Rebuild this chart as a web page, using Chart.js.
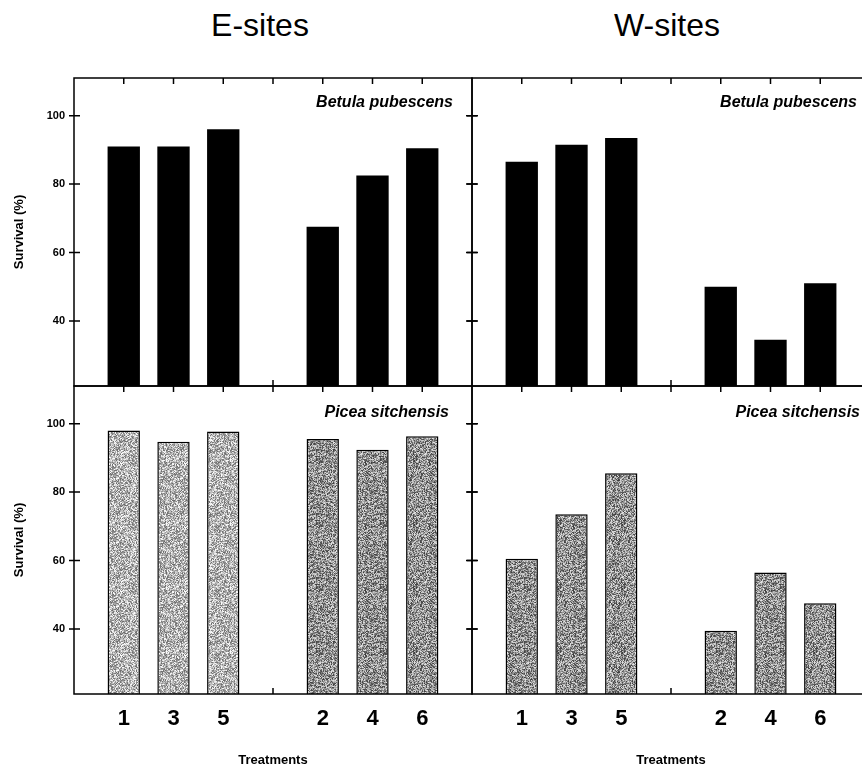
<!DOCTYPE html>
<html>
<head>
<meta charset="utf-8">
<script src="https://cdn.jsdelivr.net/npm/chart.js@4"></script>
<style>
  body { margin: 0; background: #fff; }
  #wrap { position: relative; width: 862px; height: 768px; overflow: hidden; background: #fff; }
  #wrap canvas { position: absolute; }
  .site { position: absolute; top: 9px; width: 200px; margin-left: -100px; text-align: center;
          font: 32px/32px "Liberation Sans", Arial, sans-serif; color: #000; }
</style>
</head>
<body>
<div id="wrap">
  <div class="site" style="left:260px">E-sites</div>
  <div class="site" style="left:667px">W-sites</div>
  <canvas id="js--betulaE" width="480" height="340" style="left:0;top:60px"></canvas>
  <canvas id="js--betulaW" width="416" height="340" style="left:464px;top:60px"></canvas>
  <canvas id="js--piceaE" width="480" height="398" style="left:0;top:370px"></canvas>
  <canvas id="js--piceaW" width="416" height="398" style="left:464px;top:370px"></canvas>
</div>
<script>
// treatments, with empty slots at the ends and between the two groups
const treatments = ['', '1', '3', '5', '', '2', '4', '6', ''];

// survival (%)
const betulaE = [null, 91, 91, 96, null, 67.5, 82.5, 90.5, null];
const betulaW = [null, 86.5, 91.5, 93.5, null, 50, 34.5, 51, null];
const piceaE = [null, 98, 94.7, 97.7, null, 95.5, 92.4, 96.3, null];
const piceaW = [null, 60.5, 73.5, 85.5, null, 39.5, 56.5, 47.5, null];

const yTicks = [40, 60, 80, 100];
const yMin = 21;
const yMax = 111;

const font = '"Liberation Sans", Arial, sans-serif';

// grainy grey fill like the scanned bars (fixed seed, not data)
function grain(base, spread, seed) {
    const c = document.createElement('canvas');
    c.width = 64;
    c.height = 64;
    const g = c.getContext('2d');
    const img = g.createImageData(64, 64);
    let s = seed;
    for (let i = 0; i < 64 * 64; i++) {
        s = (Math.imul(s, 1103515245) + 12345) & 0x7fffffff;
        const v = Math.max(0, Math.min(255, base + ((s >> 8) % (2 * spread)) - spread));
        img.data[i * 4] = v;
        img.data[i * 4 + 1] = v;
        img.data[i * 4 + 2] = v;
        img.data[i * 4 + 3] = 255;
    }
    g.putImageData(img, 0, 0);
    return g.createPattern(c, 'repeat');
}

const light = grain(180, 75, 7);
const medium = grain(145, 85, 13);

// box round the plot with inward ticks, and the species name
const frame = {
    id: 'frame',
    beforeDatasetsDraw(chart) {
        const { ctx, chartArea: a, scales: { x, y } } = chart;
        ctx.save();
        ctx.strokeStyle = '#000';
        ctx.lineWidth = 1.5;
        ctx.beginPath();
        for (let i = 1; i < treatments.length - 1; i++) {
            const px = x.getPixelForValue(i);
            ctx.moveTo(px, a.top);
            ctx.lineTo(px, a.top + 6);
            ctx.moveTo(px, a.bottom);
            ctx.lineTo(px, a.bottom - 6);
        }
        yTicks.forEach(v => {
            const py = y.getPixelForValue(v);
            ctx.moveTo(a.left - 5, py);
            ctx.lineTo(a.left + 6, py);
            ctx.moveTo(a.right - 6, py);
            ctx.lineTo(a.right + 5, py);
        });
        ctx.stroke();
        ctx.restore();
    },
    afterDatasetsDraw(chart, args, opts) {
        const { ctx, chartArea: a } = chart;
        ctx.save();
        ctx.strokeStyle = '#000';
        ctx.lineWidth = 1.5;
        ctx.strokeRect(a.left, a.top, a.right - a.left, a.bottom - a.top);
        ctx.fillStyle = '#000';
        ctx.font = 'italic bold 16px ' + font;
        ctx.textAlign = 'right';
        ctx.textBaseline = 'middle';
        ctx.fillText(opts.label, a.right - opts.inset, a.top + opts.drop);
        ctx.restore();
    }
};

function makePanel(id, values, opts) {
    const yAxis = {
        min: yMin,
        max: yMax,
        display: opts.left,
        afterBuildTicks: s => { s.ticks = yTicks.map(v => ({ value: v })); },
        afterFit: s => {
            s.width = opts.left ? 74 : 0;
            s.paddingTop = 0;
            s.paddingBottom = 0;
        },
        grid: { display: false, drawTicks: false },
        border: { display: false },
        ticks: { color: '#000', padding: 9, font: { family: font, size: 11, weight: 'bold' } },
        title: {
            display: true,
            text: 'Survival (%)',
            color: '#000',
            padding: { top: 12 },
            font: { family: font, size: 13, weight: 'bold' }
        }
    };
    const xAxis = {
        type: 'category',
        offset: false,
        display: opts.bottom,
        afterFit: s => {
            s.height = opts.bottom ? 74 : 0;
            s.paddingLeft = 0;
            s.paddingRight = 0;
        },
        grid: { display: false, drawTicks: false },
        border: { display: false },
        ticks: {
            color: '#000',
            padding: 12,
            autoSkip: false,
            maxRotation: 0,
            font: { family: font, size: 22, weight: 'bold' }
        },
        title: {
            display: true,
            text: 'Treatments',
            color: '#000',
            padding: 0,
            font: { family: font, size: 13, weight: 'bold' }
        }
    };
    return new Chart(document.getElementById(id), {
        type: 'bar',
        data: {
            labels: treatments,
            datasets: [{
                data: values,
                backgroundColor: opts.fill,
                borderColor: '#000',
                borderWidth: opts.outline,
                borderSkipped: 'bottom',
                barPercentage: 0.65,
                categoryPercentage: 1
            }]
        },
        options: {
            responsive: false,
            animation: false,
            devicePixelRatio: 1,
            layout: { padding: opts.padding },
            scales: { x: xAxis, y: yAxis },
            plugins: {
                legend: { display: false },
                tooltip: { enabled: false },
                frame: { label: opts.label, inset: opts.inset, drop: opts.drop }
            }
        },
        plugins: [frame]
    });
}

makePanel('js--betulaE', betulaE, {
    left: true, bottom: false, fill: '#000', outline: 0,
    padding: { top: 18, right: 8, bottom: 14, left: 0 },
    label: 'Betula pubescens', inset: 19, drop: 25
});
makePanel('js--betulaW', betulaW, {
    left: false, bottom: false, fill: '#000', outline: 0,
    padding: { top: 18, right: 10, bottom: 14, left: 8 },
    label: 'Betula pubescens', inset: 13, drop: 25
});
makePanel('js--piceaE', piceaE, {
    left: true, bottom: true,
    fill: [light, light, light, light, medium, medium, medium, medium, medium],
    outline: 1.5,
    padding: { top: 16, right: 8, bottom: 0, left: 0 },
    label: 'Picea sitchensis', inset: 23, drop: 27
});
makePanel('js--piceaW', piceaW, {
    left: false, bottom: true, fill: medium, outline: 1.5,
    padding: { top: 16, right: 10, bottom: 0, left: 8 },
    label: 'Picea sitchensis', inset: 10, drop: 27
});
</script>
</body>
</html>
